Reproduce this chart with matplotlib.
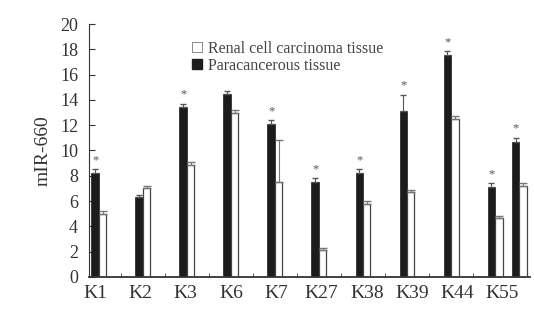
import matplotlib.pyplot as plt
import numpy as np
from matplotlib.patches import Patch

# sample labels (the last label covers the two last bar pairs)
labels = ['K1', 'K2', 'K3', 'K6', 'K7', 'K27', 'K38', 'K39', 'K44', 'K55']

# mIR-660 levels
para = [8.2, 6.3, 13.4, 14.5, 12.1, 7.5, 8.2, 13.1, 17.55, 7.1, 10.7]
para_err = [0.3, 0.2, 0.3, 0.2, 0.3, 0.3, 0.3, 1.3, 0.3, 0.3, 0.3]
renal = [5.0, 7.0, 8.85, 13.0, 7.5, 2.1, 5.8, 6.7, 12.5, 4.65, 7.2]
renal_err = [0.2, 0.2, 0.2, 0.2, 3.3, 0.2, 0.2, 0.2, 0.2, 0.2, 0.2]
signif = [True, False, True, False, True, True, True, True, True, True, True]

plt.rcParams['font.family'] = ['Liberation Serif', 'DejaVu Serif']

fig = plt.figure(figsize=(5.34, 3.25), dpi=100)
ax = fig.add_axes([0.167, 0.148, 0.826, 0.778])

# group positions: regular spacing, last pair squeezed in
x = np.arange(len(para), dtype=float)
x[-1] = x[-2] + 0.55
w = 0.17

ax.bar(x - w / 2, para, w, color='#1c1c1c', edgecolor='#1c1c1c', linewidth=0.5, zorder=2)
ax.bar(x + w / 2, renal, w, color='white', edgecolor='#444444', linewidth=0.9, zorder=2)
ax.errorbar(x - w / 2, para, yerr=[np.zeros(len(para)), para_err], fmt='none',
            ecolor='#555555', elinewidth=0.8, capsize=2, zorder=3)
ax.errorbar(x + w / 2, renal, yerr=[np.zeros(len(renal)), renal_err], fmt='none',
            ecolor='#777777', elinewidth=0.8, capsize=3, zorder=3)

for xi, v, e, s in zip(x, para, para_err, signif):
    if s:
        ax.text(xi - w / 2, v + e + 0.25, '*', ha='center', va='bottom',
                fontsize=9, color='#555555')

ax.set_ylim(0, 20)
ax.set_xlim(-0.22, 9.8)
ax.set_yticks(np.arange(0, 21, 2))
ax.tick_params(axis='y', direction='in', length=4, labelsize=13, pad=8, colors='#333333')

label_x = np.linspace(-0.08, 9.17, len(labels))
ax.set_xticks(label_x)
ax.set_xticklabels(labels)
ax.tick_params(axis='x', length=0, labelsize=14, pad=6, colors='#333333')
ax.set_xticks(np.arange(len(para) - 1) + 0.5, minor=True)
ax.tick_params(axis='x', which='minor', direction='in', length=3, color='#444444')

for side in ['top', 'right']:
    ax.spines[side].set_visible(False)
ax.spines['left'].set_color('#333333')
ax.spines['bottom'].set_color('#333333')
ax.spines['bottom'].set_linewidth(1.3)

ax.set_ylabel('mIR-660', fontsize=14, color='#333333', labelpad=6)

handles = [Patch(facecolor='white', edgecolor='#777777', linewidth=0.6),
           Patch(facecolor='#1c1c1c', edgecolor='#1c1c1c')]
ax.legend(handles, ['Renal cell carcinoma tissue', 'Paracancerous tissue'],
          loc='upper left', bbox_to_anchor=(0.215, 0.965), frameon=False,
          fontsize=11.5, handlelength=0.6, handleheight=0.6, handletextpad=0.4,
          borderpad=0, labelspacing=0.05, labelcolor='#444444')

fig.savefig('out.png', dpi=100)
